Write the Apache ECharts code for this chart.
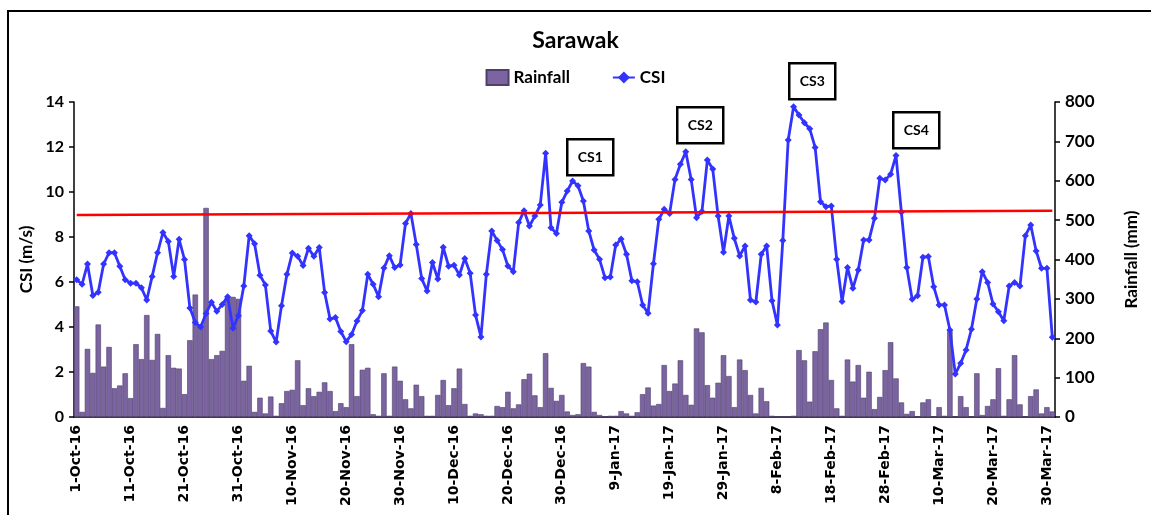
<!DOCTYPE html>
<html>
<head>
<meta charset="utf-8">
<script src="https://cdn.jsdelivr.net/npm/echarts@6.0.0/dist/echarts.min.js"></script>
<style>
  html, body { margin: 0; padding: 0; background: #fff; }
  #chart { width: 1151px; height: 515px; }
</style>
</head>
<body>
<div id="chart"></div>
<script>
// daily CSI (m/s), one array per month
const csiOct = [6.1, 5.9, 6.8, 5.4, 5.55, 6.8, 7.3, 7.3, 6.7, 6.1, 5.95, 5.95, 5.75, 5.2, 6.25, 7.3,
  8.2, 7.8, 6.25, 7.9, 7.0, 4.85, 4.2, 4.0, 4.6, 5.1, 4.7, 5.0, 5.35, 3.95, 4.5]
const csiNov = [5.82, 8.06, 7.7, 6.3, 5.87, 3.82, 3.33, 4.95, 6.34, 7.29, 7.14, 6.73, 7.5, 7.14, 7.53,
  5.53, 4.36, 4.42, 3.8, 3.35, 3.67, 4.27, 4.73, 6.34, 5.9, 5.35, 6.62, 7.17, 6.64, 6.76]
const csiDec = [8.6, 9.05, 7.67, 6.16, 5.6, 6.87, 6.13, 7.54, 6.7, 6.74, 6.31, 7.05, 6.39, 4.53, 3.56,
  6.34, 8.27, 7.85, 7.44, 6.71, 6.46, 8.64, 9.17, 8.49, 8.93, 9.42, 11.72, 8.41, 8.16, 9.54, 10.04]
const csiJan = [10.49, 10.28, 9.6, 8.27, 7.42, 7.01, 6.19, 6.22, 7.64, 7.91, 7.23, 6.06, 6.01, 4.98, 4.61,
  6.81, 8.79, 9.23, 9.05, 10.56, 11.23, 11.79, 10.56, 8.86, 9.13, 11.42, 11.02, 8.93, 7.32, 8.93, 7.94]
const csiFeb = [7.16, 7.6, 5.2, 5.11, 7.23, 7.6, 5.17, 4.09, 7.84, 12.31, 13.79, 13.42, 13.08, 12.81,
  11.98, 9.57, 9.35, 9.38, 7.01, 5.13, 6.64, 5.72, 6.53, 7.87, 7.87, 8.83, 10.61, 10.53]
const csiMar = [10.79, 11.62, 9.1, 6.65, 5.23, 5.39, 7.1, 7.13, 5.79, 4.98, 4.98, 3.87, 1.91, 2.39, 2.98,
  3.9, 5.24, 6.46, 5.98, 5.02, 4.68, 4.28, 5.82, 5.98, 5.82, 8.06, 8.53, 7.38, 6.61, 6.61, 3.54]

// daily rainfall (mm)
const rainOct = [281, 13, 173, 112, 235, 128, 178, 73, 80, 111, 48, 185, 147, 259, 145, 211, 23, 157,
  125, 123, 58, 195, 311, 234, 531, 147, 157, 168, 305, 305, 300]
const rainNov = [92, 130, 13, 49, 9, 52, 3, 35, 66, 69, 144, 30, 73, 53, 64, 88, 66, 15, 35, 25, 185,
  53, 120, 125, 7, 3, 111, 3, 128, 92]
const rainDec = [45, 22, 82, 53, 3, 3, 56, 94, 30, 73, 123, 33, 3, 9, 7, 3, 3, 28, 25, 64, 22, 32, 96,
  110, 55, 25, 162, 74, 41, 56, 14]
const rainJan = [5, 7, 137, 128, 13, 5, 2, 3, 3, 15, 9, 3, 12, 58, 75, 29, 33, 132, 66, 85, 144, 56, 31,
  225, 215, 81, 49, 87, 157, 104, 25]
const rainFeb = [146, 119, 56, 9, 74, 40, 3, 1, 0, 2, 3, 170, 144, 39, 167, 223, 240, 94, 22, 3, 146,
  90, 132, 49, 115, 20, 51, 119]
const rainMar = [190, 98, 37, 8, 15, 0, 37, 45, 0, 25, 3, 218, 0, 53, 25, 0, 111, 5, 28, 45, 124, 3,
  45, 157, 32, 0, 53, 70, 9, 25, 14]

const months = ['Oct-16', 'Nov-16', 'Dec-16', 'Jan-17', 'Feb-17', 'Mar-17']
const monthDays = [31, 30, 31, 31, 28, 31]
// threshold line, start and end value
const threshold = [8.98, 9.17]

const csiTicks = [0, 14, 2]
const rainTicks = [0, 800, 100]

// build date categories 1-Oct-16 ... 31-Mar-17
const days = []
months.forEach((m, i) => {
  for (let d = 1; d <= monthDays[i]; d++) days.push(d + '-' + m)
})
const csi = [].concat(csiOct, csiNov, csiDec, csiJan, csiFeb, csiMar)
const rain = [].concat(rainOct, rainNov, rainDec, rainJan, rainFeb, rainMar)

const myChart = echarts.init(document.getElementById('chart'))

const boldFont = 'Lato'
const boxStyle = { fill: '#fff', stroke: '#000', lineWidth: 2.5 }
const makeBox = (text, left, top) => ({
  type: 'group',
  left: left,
  top: top,
  z: 100,
  children: [
    { type: 'rect', shape: { x: 0, y: 0, width: 46, height: 36 }, style: boxStyle },
    {
      type: 'text', x: 23, y: 18,
      style: { text: text, fill: '#000', font: 'bold 14px ' + boldFont, align: 'center', verticalAlign: 'middle' },
    },
  ],
})

const option = {
  animation: false,
  backgroundColor: '#fff',
  title: {
    text: 'Sarawak',
    left: 'center',
    top: 24,
    textStyle: { fontFamily: boldFont, fontWeight: 'bold', fontSize: 23, color: '#000' },
  },
  legend: {
    top: 64,
    left: 'center',
    itemGap: 42,
    itemWidth: 22,
    itemHeight: 15,
    textStyle: { fontFamily: boldFont, fontWeight: 'bold', fontSize: 17, color: '#000' },
    data: [{ name: 'Rainfall', icon: 'rect' }, { name: 'CSI' }],
  },
  grid: { left: 74, right: 96, top: 102, bottom: 98 },
  xAxis: {
    type: 'category',
    data: days,
    boundaryGap: true,
    axisLine: { lineStyle: { color: '#000', width: 1.5 } },
    axisTick: {
      alignWithLabel: true,
      length: 5,
      lineStyle: { color: '#000', width: 1.5 },
      interval: (i) => i % 10 === 0,
    },
    axisLabel: {
      interval: (i) => i % 10 === 0,
      rotate: 90,
      margin: 8,
      color: '#000',
      fontFamily: 'DejaVu Sans',
      fontWeight: 'bold',
      fontSize: 14,
    },
    splitLine: { show: false },
  },
  yAxis: [
    {
      type: 'value',
      min: csiTicks[0],
      max: csiTicks[1],
      interval: csiTicks[2],
      name: 'CSI (m/s)',
      nameLocation: 'middle',
      nameGap: 36,
      nameTextStyle: { fontFamily: boldFont, fontWeight: 'bold', fontSize: 17, color: '#000' },
      axisLine: { show: true, lineStyle: { color: '#000', width: 1.5 } },
      axisTick: { show: true, length: 5, lineStyle: { color: '#000', width: 1.5 } },
      axisLabel: { color: '#000', fontFamily: boldFont, fontWeight: 'bold', fontSize: 16, margin: 10 },
      splitLine: { show: false },
    },
    {
      type: 'value',
      min: rainTicks[0],
      max: rainTicks[1],
      interval: rainTicks[2],
      name: 'Rainfall (mm)',
      nameLocation: 'middle',
      nameGap: 68,
      nameTextStyle: { fontFamily: boldFont, fontWeight: 'bold', fontSize: 17, color: '#000' },
      axisLine: { show: true, lineStyle: { color: '#000', width: 1.5 } },
      axisTick: { show: true, length: 5, lineStyle: { color: '#000', width: 1.5 } },
      axisLabel: { color: '#000', fontFamily: boldFont, fontWeight: 'bold', fontSize: 17, margin: 10 },
      splitLine: { show: false },
    },
  ],
  series: [
    {
      name: 'Rainfall',
      type: 'bar',
      yAxisIndex: 1,
      data: rain,
      barCategoryGap: '0%',
      itemStyle: { color: '#7b64a0', borderColor: '#4e3f6c', borderWidth: 0.6 },
    },
    {
      name: 'CSI',
      type: 'line',
      yAxisIndex: 0,
      data: csi,
      symbol: 'diamond',
      symbolSize: 7,
      showAllSymbol: true,
      lineStyle: { color: '#3333ff', width: 2.8 },
      itemStyle: { color: '#3333ff' },
      z: 3,
      markLine: {
        silent: true,
        symbol: 'none',
        label: { show: false },
        lineStyle: { color: '#ff0000', width: 2.5, type: 'solid' },
        data: [[{ coord: [0, threshold[0]] }, { coord: [days.length - 1, threshold[1]] }]],
      },
    },
  ],
  graphic: [
    {
      type: 'polyline',
      z: 100,
      shape: { points: [[8, 515], [8, 11], [1151, 11]] },
      style: { stroke: '#000', lineWidth: 2, fill: null },
    },
    makeBox('CS1', 566, 138),
    makeBox('CS2', 676, 106),
    makeBox('CS3', 788, 62),
    makeBox('CS4', 892, 111),
  ],
}

myChart.setOption(option)
</script>
</body>
</html>
